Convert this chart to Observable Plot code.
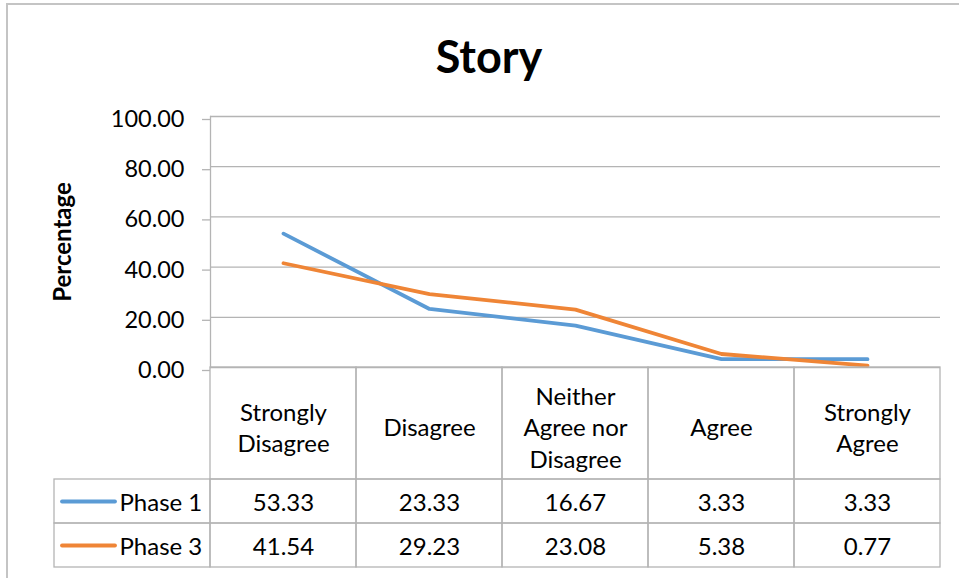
<!DOCTYPE html>
<html><head><meta charset="utf-8">
<script src="https://cdn.jsdelivr.net/npm/d3@7"></script>
<script src="https://cdn.jsdelivr.net/npm/@observablehq/plot@0.6"></script>
<style>
body{margin:0;background:#fff;}
#root{position:relative;width:959px;height:578px;overflow:hidden;font-family:Lato,sans-serif;background:#fff;}
#border{position:absolute;left:6px;top:3px;width:1100px;height:700px;border:2px solid #c4c4c4;box-sizing:border-box;}
#title{position:absolute;left:0;width:978px;top:29px;text-align:center;font-family:Lato,sans-serif;font-weight:bold;font-size:45px;line-height:1.2;color:#000;}
.p{position:absolute;}
.p svg{overflow:visible;background:transparent;}
</style></head><body>
<div id="root">
  <div id="border"></div>
  <div id="title">Story</div>
  <div class="p" id="chart" style="left:0;top:0;"></div>
  <div class="p" id="header" style="left:0;top:367px;"></div>
  <div class="p" id="legend" style="left:54px;top:479px;"></div>
  <div class="p" id="rows" style="left:0;top:479px;"></div>
</div>
<script>
const categories = ["Strongly Disagree","Disagree","Neither Agree nor Disagree","Agree","Strongly Agree"];
const categoryLabels = ["Strongly\nDisagree","Disagree","Neither\nAgree nor\nDisagree","Agree","Strongly\nAgree"];
const seriesNames = ["Phase 1","Phase 3"];
const phase1 = [53.33,23.33,16.67,3.33,3.33];
const phase3 = [41.54,29.23,23.08,5.38,0.77];
const seriesColors = ["#5B9BD5","#EF8536"];
const yTicks = [0,20,40,60,80,100];
const yLabel = "Percentage";

const rows = [];
categories.forEach((c,i)=>{
  rows.push({category:c, series:seriesNames[0], value:phase1[i]});
  rows.push({category:c, series:seriesNames[1], value:phase3[i]});
});

const W = 959, ML = 210, MR = 19;
const GRID = "#b4b4b4";
const FS = 24;
const style = {fontFamily:"Lato, sans-serif", fontSize:FS+"px", color:"#000", background:"transparent", overflow:"visible"};
const color = {domain: seriesNames, range: seriesColors};
const fmt = d3.format(".2f");

const chart = Plot.plot({
  width: W, height: 368, marginLeft: ML, marginRight: MR, marginTop: 116, marginBottom: 1,
  style,
  x: {type:"band", domain: categories, padding:0, axis:null},
  y: {domain:[0,100], axis:null},
  color,
  marks: [
    Plot.gridY(yTicks, {stroke:GRID, strokeOpacity:1, strokeWidth:1.3}),
    Plot.axisY(yTicks, {tickSize:8, tickPadding:18, stroke:GRID, strokeOpacity:1, strokeWidth:1.3, tickFormat: fmt, fontSize:23.5, dy:3, label:null, fill:"#000"}),
    Plot.frame({anchor:"left", stroke:GRID, strokeWidth:1.3}),
    Plot.line(rows, {x:"category", y:"value", stroke:"series", strokeWidth:3.8, strokeLinecap:"round", strokeLinejoin:"round"}),
    Plot.text([yLabel], {frameAnchor:"left", textAnchor:"middle", dx:-147, rotate:-90, fontWeight:"bold", fontSize:24, fill:"#000"})
  ]
});
document.getElementById("chart").append(chart);

const header = Plot.plot({
  width: W, height: 113, marginLeft: ML, marginRight: MR, marginTop: 0, marginBottom: 1,
  style,
  x: {type:"band", domain: categories, padding:0, axis:null},
  marks: [
    Plot.cell(categories, {x: d=>d, fill:"none", stroke:GRID, strokeWidth:1.3}),
    Plot.text(categories, {x: d=>d, text: (d,i)=>categoryLabels[i], fontSize:FS, lineHeight:1.3, dy:3, frameAnchor:"middle", fill:"#000"})
  ]
});
document.getElementById("header").append(header);

const table = Plot.plot({
  width: W, height: 89, marginLeft: ML, marginRight: MR, marginTop: 0, marginBottom: 1,
  style,
  x: {type:"band", domain: categories, padding:0, axis:null},
  y: {type:"band", domain: seriesNames, padding:0, axis:null},
  marks: [
    Plot.cell(rows, {x:"category", y:"series", fill:"none", stroke:GRID, strokeWidth:1.3}),
    Plot.text(rows, {x:"category", y:"series", text: d=>fmt(d.value), fontSize:FS, dy:2, fill:"#000"})
  ]
});
document.getElementById("rows").append(table);

const legend = Plot.plot({
  width: 156, height: 89, marginLeft: 0, marginRight: 0, marginTop: 0, marginBottom: 1,
  style,
  x: {type:"band", domain:["legend"], padding:0, axis:null},
  y: {type:"band", domain: seriesNames, padding:0, axis:null},
  color,
  marks: [
    Plot.cell(seriesNames, {x:()=>"legend", y:d=>d, fill:"none", stroke:GRID, strokeWidth:1.3}),
    Plot.tickY(seriesNames, {x:()=>"legend", y:d=>d, stroke:d=>d, strokeWidth:3.8, insetLeft:8, insetRight:95, strokeLinecap:"round"}),
    Plot.text(seriesNames, {x:()=>"legend", y:d=>d, text:d=>d, textAnchor:"start", dx:-13, fontSize:FS, dy:2, fill:"#000"})
  ]
});
document.getElementById("legend").append(legend);
</script>
</body></html>
